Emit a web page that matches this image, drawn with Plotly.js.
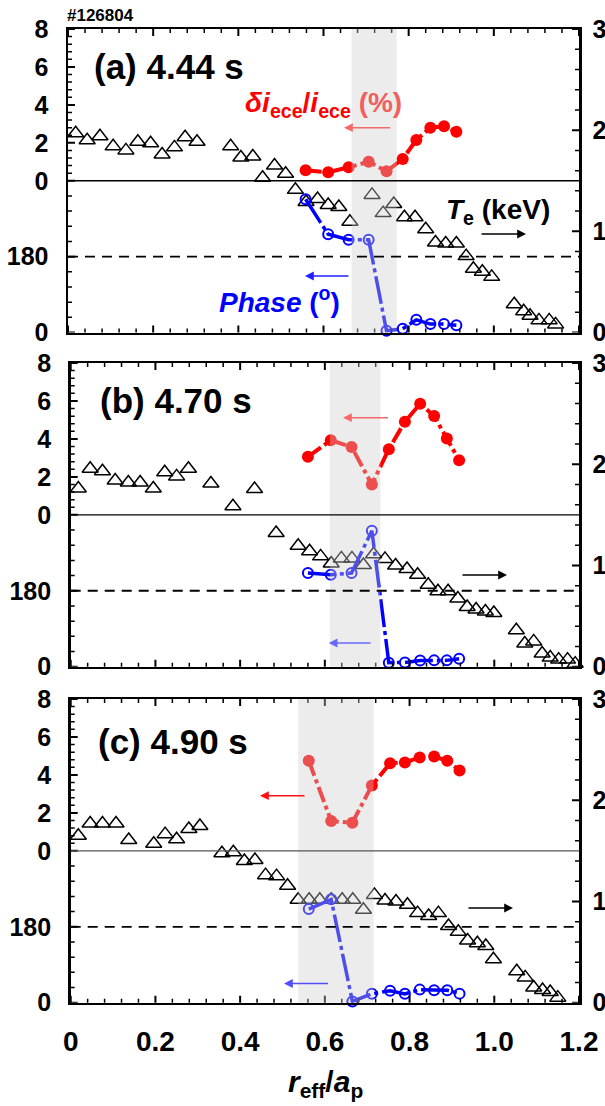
<!DOCTYPE html>
<html><head><meta charset="utf-8">
<script src="https://cdn.plot.ly/plotly-3.0.1.min.js"></script>
<style>html,body{margin:0;padding:0;background:#fff;} #chart{width:605px;height:1106px;}</style>
</head><body><div id="chart"></div>
<script>
// ---------------- data ----------------
const shotLabel = '#126804';
const panelLabels = ['(a) 4.44 s', '(b) 4.70 s', '(c) 4.90 s'];

const xTickVals = [0, 0.2, 0.4, 0.6, 0.8, 1.0, 1.2];
const xTickText = ['0', '0.2', '0.4', '0.6', '0.8', '1.0', '1.2'];
const ampTicks = [0, 2, 4, 6, 8];          // delta i / i (%), upper half of left axis
const phaseTicks = [0, 180];               // phase (deg), lower half of left axis
const teTicks = [0, 1, 2, 3];              // Te (keV), right axis

// (a) 4.44 s
const teX_a = [0.018,0.045,0.075,0.106,0.136,0.164,0.194,0.221,0.25,0.275,0.303,0.382,0.406,0.434,0.457,0.485,0.511,0.534,0.559,0.586,0.611,0.636,0.662,0.714,0.740,0.765,0.790,0.815,0.840,0.863,0.887,0.912,0.935,0.952,0.973,0.995,1.048,1.07,1.085,1.106,1.13,1.145];
const teY_a = [1.97,1.90,1.94,1.84,1.80,1.885,1.87,1.76,1.83,1.93,1.885,1.84,1.73,1.74,1.53,1.65,1.57,1.41,1.29,1.32,1.26,1.24,1.095,1.36,1.18,1.27,1.14,1.14,1.02,0.89,0.88,0.88,0.755,0.63,0.60,0.55,0.28,0.21,0.165,0.12,0.12,0.08];
const chX_a = [0.558,0.611,0.659,0.706,0.748,0.786,0.818,0.851,0.883,0.912];
const amp_a = [0.55,0.45,0.71,1.0,0.5,1.15,2.15,2.8,2.87,2.58];
const phase_a = [316,233,220,220,4,9,30,20,20,17];
const band_a = [0.666, 0.772];

// (b) 4.70 s
const teX_b = [0.018,0.046,0.075,0.105,0.136,0.164,0.195,0.222,0.25,0.278,0.331,0.383,0.434,0.485,0.537,0.564,0.59,0.615,0.639,0.664,0.691,0.715,0.742,0.767,0.794,0.819,0.844,0.867,0.891,0.914,0.936,0.957,0.979,0.999,1.052,1.072,1.093,1.113,1.132,1.152,1.173,1.191];
const teY_b = [1.76,1.955,1.93,1.84,1.82,1.82,1.76,1.92,1.88,1.955,1.81,1.585,1.755,1.32,1.195,1.14,1.09,1.02,1.07,1.07,1.005,1.11,1.065,1.0,0.965,0.908,0.81,0.745,0.745,0.673,0.59,0.565,0.545,0.53,0.36,0.23,0.25,0.13,0.09,0.07,0.07,0.03];
const chX_b = [0.560,0.614,0.663,0.711,0.751,0.789,0.825,0.858,0.888,0.917];
const amp_b = [3.06,3.93,3.58,1.6,3.46,4.91,5.85,5.21,4.02,2.88];
const phase_b = [222,218,222,322.5,9.6,10,14.5,15,15,19];
const band_b = [0.612, 0.731];

// (c) 4.90 s
const teX_c = [0.018,0.046,0.075,0.107,0.137,0.196,0.223,0.25,0.279,0.305,0.357,0.384,0.41,0.435,0.46,0.486,0.512,0.537,0.563,0.588,0.615,0.641,0.666,0.691,0.717,0.742,0.768,0.795,0.819,0.845,0.868,0.892,0.915,0.937,0.960,0.98,0.998,1.053,1.073,1.093,1.114,1.132,1.15];
const teY_c = [1.65,1.77,1.77,1.77,1.607,1.57,1.665,1.615,1.715,1.745,1.477,1.487,1.40,1.41,1.26,1.25,1.155,1.017,1.017,1.017,1.017,1.017,1.017,0.918,1.065,1.01,0.999,0.967,0.885,0.857,0.885,0.758,0.70,0.615,0.588,0.56,0.43,0.31,0.25,0.15,0.125,0.105,0.05];
const chX_c = [0.562,0.615,0.665,0.711,0.754,0.789,0.824,0.858,0.889,0.918];
const amp_c = [4.75,1.57,1.48,3.44,4.61,4.66,4.92,4.97,4.75,4.23];
const phase_c = [222,245,3,21,28.5,21,31,29.5,29.5,21.5];
const band_c = [0.537, 0.715];

// ---------------- drawing ----------------
const FONT = '"Liberation Sans", Arial, sans-serif';
const W = 605, H = 1106;
const fx = px => px / W, fy = py => 1 - py / H;
const RED = '#ff0000', BLUE = '#0000ff';

// left axis is split: lower half = phase 0..360, upper half = amplitude 0..8
const PH_MAX = 360, AMP_MAX = 8;
const phPos = v => v / PH_MAX;          // 0..1
const ampPos = v => 1 + v / AMP_MAX;    // 1..2
const leftTickVals = phaseTicks.map(phPos).concat(ampTicks.map(ampPos));
const leftTickText = phaseTicks.map(String).concat(ampTicks.map(String));
const leftMinor = [];
for (let v = 36; v < PH_MAX; v += 36) if (v % 180) leftMinor.push(phPos(v));
for (let k = 1; k < 20; k++) if (k % 5) leftMinor.push(ampPos(k * 0.4));
const xMinor = [];
for (let k = 1; k < 30; k++) if (k % 5) xMinor.push(k * 0.04);
const teMinor = [];
for (let k = 1; k < 15; k++) if (k % 5) teMinor.push(k * 0.2);

const geo = [
  {top: 29, bot: 332.5, left: 68, right: 579},
  {top: 363, bot: 666.7, left: 70.7, right: 579},
  {top: 699, bot: 1002.7, left: 70.7, right: 579}
];
const panels = [
  {teX: teX_a, teY: teY_a, chX: chX_a, amp: amp_a, ph: phase_a, band: band_a},
  {teX: teX_b, teY: teY_b, chX: chX_b, amp: amp_b, ph: phase_b, band: band_b},
  {teX: teX_c, teY: teY_c, chX: chX_c, amp: amp_c, ph: phase_c, band: band_c}
];

const layout = {
  width: W, height: H, margin: {l: 0, r: 0, t: 0, b: 0},
  paper_bgcolor: '#fff', plot_bgcolor: '#fff', showlegend: false,
  font: {family: FONT, color: '#000'}, shapes: [], annotations: []
};
const common = {showline: true, linecolor: '#000', linewidth: 2.5, ticks: '',
  showgrid: false, zeroline: false, fixedrange: true};
const yid = n => n === 1 ? 'y' : 'y' + n;
const ykey = n => n === 1 ? 'yaxis' : 'yaxis' + n;
const tickFontY = {size: 25, family: FONT, color: '#000', weight: 'bold'};
const MAJ = 7, MIN = 4;

function tick(xref, yref, x0, x1, y0, y1, w) {
  layout.shapes.push({type: 'line', layer: 'above', xref: xref, yref: yref, x0: x0, x1: x1, y0: y0, y1: y1,
    line: {color: '#000', width: w}});
}

const teTraces = [], redTraces = [], blueTraces = [];
geo.forEach((g, i) => {
  const p = panels[i];
  const xn = i === 0 ? 'x' : 'x' + (i + 1);
  const xk = i === 0 ? 'xaxis' : 'xaxis' + (i + 1);
  const nTe = 2 * i + 1, nL = 2 * i + 2;
  layout[xk] = Object.assign({}, common, {
    domain: [fx(g.left), fx(g.right)], range: [0, 1.2], anchor: yid(nTe), mirror: true,
    tickmode: 'array', tickvals: xTickVals, ticktext: xTickText, showticklabels: i === 2,
    tickfont: {size: 28, family: FONT, color: '#000', weight: 'bold'}, ticklabelstandoff: 12
  });
  layout[ykey(nTe)] = Object.assign({}, common, {
    domain: [fy(g.bot), fy(g.top)], range: [0, 3], anchor: xn, side: 'right',
    tickmode: 'array', tickvals: teTicks, tickfont: tickFontY, ticklabelstandoff: 6
  });
  layout[ykey(nL)] = Object.assign({}, common, {
    overlaying: yid(nTe), range: [0, 2], anchor: xn, side: 'left',
    tickmode: 'array', tickvals: leftTickVals, ticktext: leftTickText, tickfont: tickFontY, ticklabelstandoff: 12
  });

  teTraces.push({x: p.teX, y: p.teY, xaxis: xn, yaxis: yid(nTe), type: 'scatter', mode: 'markers', cliponaxis: false,
    marker: {symbol: 'triangle-up-open', size: 14, color: '#000', line: {width: 1.5, color: '#000'}}});
  redTraces.push({x: p.chX, y: p.amp.map(ampPos), xaxis: xn, yaxis: yid(nL), type: 'scatter', mode: 'lines+markers', cliponaxis: false,
    line: {color: RED, width: 4, dash: '16px,4px,4px,4px'},
    marker: {symbol: 'circle', size: 12, color: RED}});
  blueTraces.push({x: p.chX, y: p.ph.map(phPos), xaxis: xn, yaxis: yid(nL), type: 'scatter', mode: 'lines+markers', cliponaxis: false,
    line: {color: BLUE, width: 3.5, dash: '28px,4px,4px,4px'},
    marker: {symbol: 'circle-open', size: 10, color: BLUE, line: {width: 2, color: BLUE}}});

  // inside tick marks (bottom & top of x, left split axis, right Te axis)
  xTickVals.forEach(v => { tick(xn, 'paper', v, v, fy(g.bot), fy(g.bot - MAJ), 2); tick(xn, 'paper', v, v, fy(g.top), fy(g.top + MAJ), 2); });
  xMinor.forEach(v => { tick(xn, 'paper', v, v, fy(g.bot), fy(g.bot - MIN), 1.5); tick(xn, 'paper', v, v, fy(g.top), fy(g.top + MIN), 1.5); });
  leftTickVals.forEach(v => tick('paper', yid(nL), fx(g.left), fx(g.left + MAJ), v, v, 2));
  leftMinor.forEach(v => tick('paper', yid(nL), fx(g.left), fx(g.left + MIN), v, v, 1.5));
  teTicks.forEach(v => tick('paper', yid(nTe), fx(g.right), fx(g.right - MAJ), v, v, 2));
  teMinor.forEach(v => tick('paper', yid(nTe), fx(g.right), fx(g.right - MIN), v, v, 1.5));

  // shaded band (above, lightens what is under it)
  layout.shapes.push({type: 'rect', layer: 'above', xref: xn, yref: 'paper', x0: p.band[0], x1: p.band[1],
    y0: fy(g.bot), y1: fy(g.top), fillcolor: 'rgba(205,205,205,0.38)', line: {width: 0}});
  // solid line between the two left scales (amp 0 / phase 360)
  layout.shapes.push({type: 'line', layer: 'above', xref: xn, yref: yid(nL), x0: 0, x1: 1.2, y0: ampPos(0), y1: ampPos(0),
    line: {color: i === 2 ? '#555' : '#000', width: 1.3}});
  // dashed 180 deg line
  layout.shapes.push({type: 'line', layer: 'above', xref: xn, yref: yid(nL), x0: 0, x1: 1.2, y0: phPos(180), y1: phPos(180),
    line: {color: '#000', width: 1.8, dash: '10px,7px'}});

  const lab = [{x: 92, y: 67}, {x: 98, y: 401}, {x: 96, y: 741}][i];
  layout.annotations.push({xref: 'paper', yref: 'paper', x: fx(lab.x), y: fy(lab.y), xanchor: 'left', yanchor: 'middle',
    showarrow: false, text: '<b>' + panelLabels[i] + '</b>', font: {size: 35, family: FONT, color: '#000'}});
});

const data = teTraces.concat(redTraces, blueTraces);

// arrows (head at x1)
const arrows = [
  {x0: 391.7, x1: 344, y: 127.7, c: 'rgb(245,105,105)'},
  {x0: 350, x1: 305, y: 276, c: '#2020ff'},
  {x0: 480, x1: 526, y: 234, c: '#000'},
  {x0: 389.5, x1: 343, y: 417.7, c: 'rgb(245,105,105)'},
  {x0: 372, x1: 328.7, y: 643, c: 'rgb(105,105,250)'},
  {x0: 461, x1: 507, y: 575, c: '#000'},
  {x0: 306, x1: 260, y: 795.7, c: '#ff1010'},
  {x0: 329.5, x1: 284, y: 983.5, c: 'rgb(80,80,250)'},
  {x0: 467, x1: 513, y: 908, c: '#000'}
];
arrows.forEach(a => layout.annotations.push({xref: 'paper', yref: 'paper', x: fx(a.x1), y: fy(a.y),
  axref: 'pixel', ayref: 'pixel', ax: a.x0 - a.x1, ay: 0, text: '', showarrow: true,
  arrowhead: 2, arrowsize: 1.1, arrowwidth: 1.6, arrowcolor: a.c}));

layout.annotations.push(
  {xref: 'paper', yref: 'paper', x: fx(65), y: fy(16), xanchor: 'left', yanchor: 'middle', showarrow: false,
   text: '<b>' + shotLabel + '</b>', font: {size: 17, family: FONT, color: '#000'}},
  {xref: 'paper', yref: 'paper', x: fx(243), y: fy(104), xanchor: 'left', yanchor: 'middle', showarrow: false,
   text: '<b><i>δi</i><sub>ece</sub>/<i>i</i><sub>ece</sub> <span style="color:rgb(242,95,95)">(%)</span></b>',
   font: {size: 28, family: FONT, color: RED}},
  {xref: 'paper', yref: 'paper', x: fx(217), y: fy(300), xanchor: 'left', yanchor: 'middle', showarrow: false,
   text: '<b><i>Phase</i> (<sup>o</sup>)</b>', font: {size: 28, family: FONT, color: BLUE}},
  {xref: 'paper', yref: 'paper', x: fx(444), y: fy(211), xanchor: 'left', yanchor: 'middle', showarrow: false,
   text: '<b><i>T</i><sub>e</sub> (keV)</b>', font: {size: 28, family: FONT, color: '#000'}},
  {xref: 'paper', yref: 'paper', x: fx(325), y: fy(1083), xanchor: 'center', yanchor: 'middle', showarrow: false,
   text: '<b><i>r</i><sub>eff</sub>/<i>a</i><sub>p</sub></b>', font: {size: 30, family: FONT, color: '#000'}}
);

Plotly.newPlot('chart', data, layout, {staticPlot: true, displayModeBar: false});
</script></body></html>
